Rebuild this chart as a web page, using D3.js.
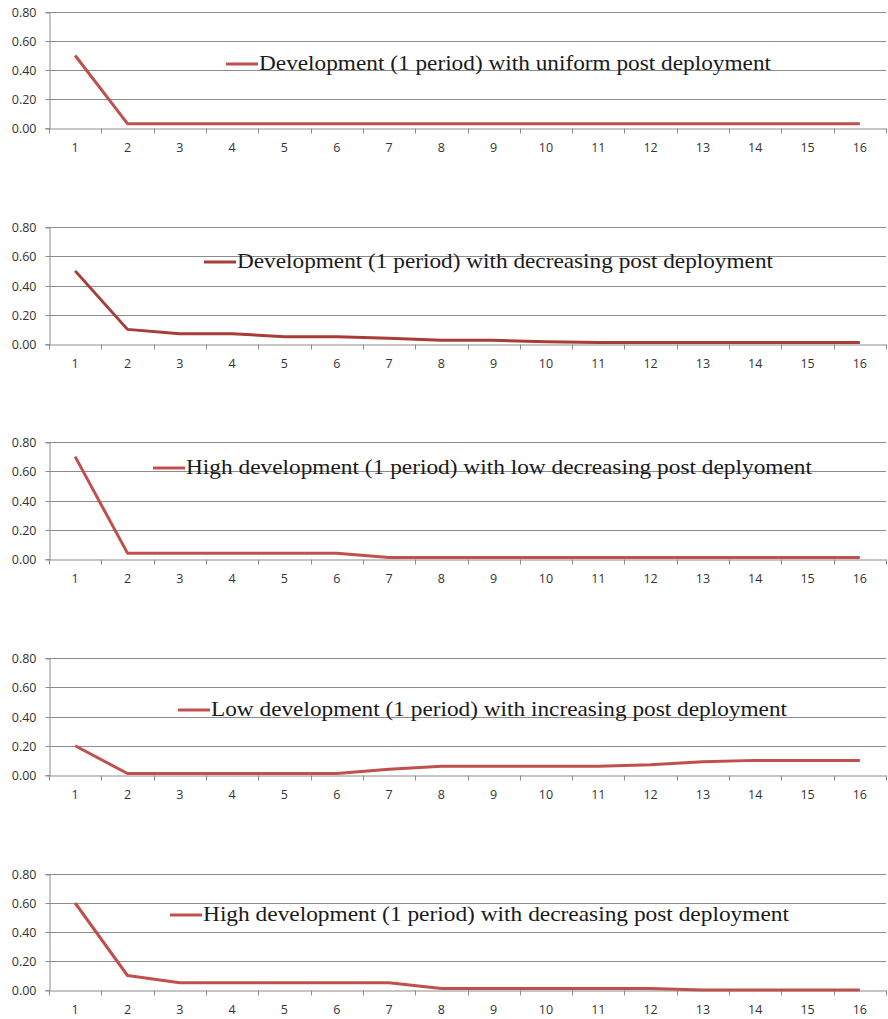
<!DOCTYPE html>
<html>
<head>
<meta charset="utf-8">
<script src="https://cdn.jsdelivr.net/npm/d3@7"></script>
<style>
  body { margin: 0; background: #fff; }
  .tick text { font-family: 'Open Sans', 'Liberation Sans', sans-serif; font-size: 12.5px; fill: #333; }
  .legend { font-family: 'Liberation Serif', serif; font-size: 22px; fill: #1a1a1a; }
</style>
</head>
<body>
<div id="chart"></div>
<script>
const periods = ['1','2','3','4','5','6','7','8','9','10','11','12','13','14','15','16'];
const yTicks = [0, 0.2, 0.4, 0.6, 0.8];

const uniformPost = [0.50, 0.03, 0.03, 0.03, 0.03, 0.03, 0.03, 0.03, 0.03, 0.03, 0.03, 0.03, 0.03, 0.03, 0.03, 0.03];
const decreasingPost = [0.50, 0.10, 0.07, 0.07, 0.05, 0.05, 0.04, 0.025, 0.025, 0.015, 0.01, 0.01, 0.01, 0.01, 0.01, 0.01];
const highLowDecreasing = [0.70, 0.04, 0.04, 0.04, 0.04, 0.04, 0.01, 0.01, 0.01, 0.01, 0.01, 0.01, 0.01, 0.01, 0.01, 0.01];
const lowIncreasing = [0.20, 0.01, 0.01, 0.01, 0.01, 0.01, 0.04, 0.06, 0.06, 0.06, 0.06, 0.07, 0.09, 0.10, 0.10, 0.10];
const highDecreasing = [0.60, 0.10, 0.05, 0.05, 0.05, 0.05, 0.05, 0.01, 0.01, 0.01, 0.01, 0.01, 0.00, 0.00, 0.00, 0.00];

const labels = [
  'Development (1 period) with uniform post deployment',
  'Development (1 period) with decreasing post deployment',
  'High development (1 period) with low decreasing post deplyoment',
  'Low development (1 period) with increasing post deployment',
  'High development (1 period) with decreasing post deployment'
];

// layout of each panel: top / bottom of plot, legend position
const panels = [
  { values: uniformPost,       top: 12,  bottom: 128, lx: 226, ly: 64,  tw: 512, color: '#c0504d' },
  { values: decreasingPost,    top: 227, bottom: 344, lx: 204, ly: 262, tw: 536, color: '#a83c38' },
  { values: highLowDecreasing, top: 442, bottom: 559, lx: 153, ly: 468, tw: 626, color: '#c0504d' },
  { values: lowIncreasing,     top: 658, bottom: 775, lx: 178, ly: 710, tw: 576, color: '#c0504d' },
  { values: highDecreasing,    top: 874, bottom: 990, lx: 170, ly: 915, tw: 586, color: '#c0504d' }
];

const left = 49, right = 886;

const svg = d3.select('#chart').append('svg')
  .attr('width', 888)
  .attr('height', 1019);

const xScale = d3.scaleBand()
  .domain(periods)
  .range([left, right]);

panels.forEach((p, i) => {
  let yScale = d3.scaleLinear()
    .domain([0, 0.8])
    .range([p.bottom, p.top]);

  let g = svg.append('g');

  // gridlines
  g.selectAll('.grid')
    .data(yTicks.slice(1)).enter()
    .append('line')
      .attr('x1', left)
      .attr('x2', right)
      .attr('y1', function(d) { return Math.round(yScale(d)) + 0.5; })
      .attr('y2', function(d) { return Math.round(yScale(d)) + 0.5; })
      .attr('stroke', '#8c8c8c')
      .attr('stroke-width', 1);

  // y axis
  let yAxis = g.append('g')
    .attr('transform', 'translate(' + (left + 0.5) + ',0.5)')
    .call(d3.axisLeft(yScale).tickValues(yTicks).tickSize(4).tickPadding(9).tickFormat(d3.format('.2f')));
  yAxis.select('.domain').attr('stroke', '#8c8c8c');
  yAxis.selectAll('.tick line').attr('stroke', '#8c8c8c');
  yAxis.selectAll('.tick').attr('transform', function(d) {
    return 'translate(0,' + Math.round(yScale(d)) + ')';
  });

  // x axis with ticks on band edges
  let xAxis = g.append('g')
    .attr('transform', 'translate(0,' + (Math.round(p.bottom) + 0.5) + ')')
    .call(d3.axisBottom(xScale).tickSize(0).tickPadding(15));
  xAxis.select('.domain').attr('stroke', '#8c8c8c');
  xAxis.selectAll('.edge')
    .data(periods.concat(['end'])).enter()
    .append('line')
      .attr('class', 'edge')
      .attr('x1', function(d, j) { return Math.round(left + j * xScale.bandwidth()) + 0.5; })
      .attr('x2', function(d, j) { return Math.round(left + j * xScale.bandwidth()) + 0.5; })
      .attr('y1', 0)
      .attr('y2', 5)
      .attr('stroke', '#8c8c8c');

  // series line
  g.append('path')
    .datum(p.values)
    .attr('fill', 'none')
    .attr('stroke', p.color)
    .attr('stroke-width', 3)
    .attr('stroke-linejoin', 'round')
    .attr('d', d3.line()
      .x(function(d, j) { return xScale(periods[j]) + xScale.bandwidth() / 2; })
      .y(function(d) { return yScale(d); }));

  // legend
  g.append('line')
    .attr('x1', p.lx)
    .attr('x2', p.lx + 32)
    .attr('y1', p.ly)
    .attr('y2', p.ly)
    .attr('stroke', p.color)
    .attr('stroke-width', 3);

  g.append('text')
    .attr('class', 'legend')
    .attr('x', p.lx + 33)
    .attr('y', p.ly + 6)
    .attr('textLength', p.tw)
    .attr('lengthAdjust', 'spacingAndGlyphs')
    .text(labels[i]);
});
</script>
</body>
</html>
